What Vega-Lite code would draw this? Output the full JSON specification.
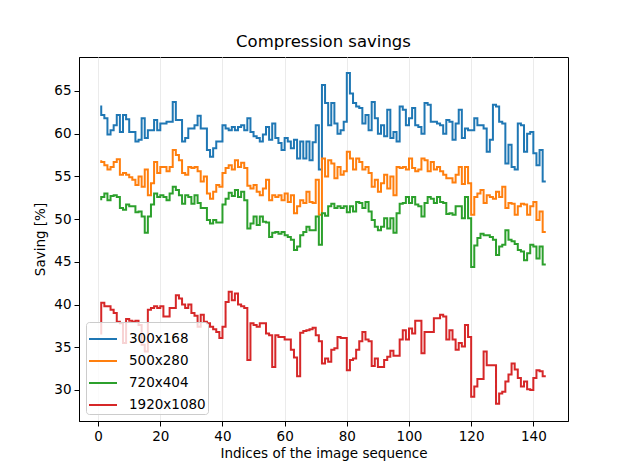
{
"$schema": "https://vega.github.io/schema/vega-lite/v6.json",
"width": 489, "height": 364,
"autosize": {"type": "none"},
"padding": {"left": 79, "top": 57, "right": 63, "bottom": 52},
"background": "white",
"title": {"text": "Compression savings", "fontSize": 16.5, "font": "DejaVu Sans", "fontWeight": "normal", "color": "black", "offset": 7},
"data": {"values": [
{"x":1,"300x168":63.3,"500x280":56.9,"720x404":52.2,"1920x1080":36.5},
{"x":2,"300x168":62.2,"500x280":56.7,"720x404":52.6,"1920x1080":40.2},
{"x":3,"300x168":61.8,"500x280":56.3,"720x404":53.0,"1920x1080":39.8},
{"x":4,"300x168":59.9,"500x280":55.8,"720x404":52.2,"1920x1080":39.8},
{"x":5,"300x168":60.4,"500x280":56.1,"720x404":52.7,"1920x1080":39.4},
{"x":6,"300x168":61.0,"500x280":56.7,"720x404":52.8,"1920x1080":39.0},
{"x":7,"300x168":62.2,"500x280":57.0,"720x404":52.6,"1920x1080":38.0},
{"x":8,"300x168":60.2,"500x280":55.2,"720x404":51.3,"1920x1080":37.8},
{"x":9,"300x168":62.2,"500x280":55.4,"720x404":51.1,"1920x1080":35.5},
{"x":10,"300x168":61.7,"500x280":55.2,"720x404":51.7,"1920x1080":38.3},
{"x":11,"300x168":60.2,"500x280":54.9,"720x404":51.5,"1920x1080":38.1},
{"x":12,"300x168":60.2,"500x280":54.6,"720x404":51.5,"1920x1080":38.0},
{"x":13,"300x168":59.1,"500x280":54.0,"720x404":50.8,"1920x1080":38.1},
{"x":14,"300x168":59.3,"500x280":55.0,"720x404":50.9,"1920x1080":37.6},
{"x":15,"300x168":61.8,"500x280":53.8,"720x404":50.3,"1920x1080":35.3},
{"x":16,"300x168":59.5,"500x280":55.8,"720x404":48.4,"1920x1080":34.5},
{"x":17,"300x168":60.4,"500x280":52.8,"720x404":50.3,"1920x1080":39.4},
{"x":18,"300x168":60.4,"500x280":54.2,"720x404":51.7,"1920x1080":39.6},
{"x":19,"300x168":61.6,"500x280":56.7,"720x404":53.0,"1920x1080":39.8},
{"x":20,"300x168":60.4,"500x280":55.4,"720x404":52.6,"1920x1080":39.6},
{"x":21,"300x168":61.2,"500x280":56.1,"720x404":52.8,"1920x1080":39.8},
{"x":22,"300x168":61.2,"500x280":56.1,"720x404":52.6,"1920x1080":38.6},
{"x":23,"300x168":61.4,"500x280":55.6,"720x404":52.2,"1920x1080":38.6},
{"x":24,"300x168":61.4,"500x280":56.1,"720x404":53.0,"1920x1080":39.6},
{"x":25,"300x168":63.7,"500x280":58.1,"720x404":53.8,"1920x1080":39.6},
{"x":26,"300x168":61.6,"500x280":57.5,"720x404":53.4,"1920x1080":41.1},
{"x":27,"300x168":61.6,"500x280":56.9,"720x404":52.8,"1920x1080":40.7},
{"x":28,"300x168":59.1,"500x280":55.4,"720x404":51.8,"1920x1080":40.0},
{"x":29,"300x168":59.5,"500x280":55.2,"720x404":52.8,"1920x1080":39.6},
{"x":30,"300x168":60.6,"500x280":56.1,"720x404":52.6,"1920x1080":40.0},
{"x":31,"300x168":60.6,"500x280":56.0,"720x404":51.8,"1920x1080":39.0},
{"x":32,"300x168":61.0,"500x280":56.1,"720x404":52.8,"1920x1080":38.7},
{"x":33,"300x168":62.1,"500x280":55.6,"720x404":51.9,"1920x1080":37.4},
{"x":34,"300x168":60.6,"500x280":54.4,"720x404":51.3,"1920x1080":38.8},
{"x":35,"300x168":60.6,"500x280":55.0,"720x404":51.3,"1920x1080":38.0},
{"x":36,"300x168":58.1,"500x280":53.0,"720x404":49.9,"1920x1080":37.8},
{"x":37,"300x168":57.3,"500x280":52.4,"720x404":49.5,"1920x1080":37.4},
{"x":38,"300x168":58.3,"500x280":53.2,"720x404":49.9,"1920x1080":37.1},
{"x":39,"300x168":59.1,"500x280":54.0,"720x404":49.6,"1920x1080":36.8},
{"x":40,"300x168":59.1,"500x280":53.8,"720x404":49.6,"1920x1080":36.1},
{"x":41,"300x168":61.0,"500x280":55.4,"720x404":51.7,"1920x1080":37.4},
{"x":42,"300x168":60.6,"500x280":56.0,"720x404":52.4,"1920x1080":40.3},
{"x":43,"300x168":60.4,"500x280":56.3,"720x404":53.1,"1920x1080":41.5},
{"x":44,"300x168":60.8,"500x280":55.8,"720x404":52.7,"1920x1080":40.5},
{"x":45,"300x168":60.4,"500x280":56.9,"720x404":53.4,"1920x1080":41.3},
{"x":46,"300x168":60.8,"500x280":56.1,"720x404":52.6,"1920x1080":40.0},
{"x":47,"300x168":61.0,"500x280":56.6,"720x404":53.2,"1920x1080":39.8},
{"x":48,"300x168":60.4,"500x280":56.0,"720x404":52.2,"1920x1080":39.6},
{"x":49,"300x168":61.8,"500x280":53.9,"720x404":48.9,"1920x1080":33.5},
{"x":50,"300x168":60.2,"500x280":53.6,"720x404":49.5,"1920x1080":37.8},
{"x":51,"300x168":59.7,"500x280":54.0,"720x404":50.3,"1920x1080":37.6},
{"x":52,"300x168":59.5,"500x280":53.2,"720x404":49.3,"1920x1080":37.4},
{"x":53,"300x168":59.1,"500x280":52.8,"720x404":50.3,"1920x1080":37.8},
{"x":54,"300x168":59.9,"500x280":53.6,"720x404":49.7,"1920x1080":37.8},
{"x":55,"300x168":60.8,"500x280":54.6,"720x404":49.6,"1920x1080":36.6},
{"x":56,"300x168":59.3,"500x280":52.2,"720x404":47.9,"1920x1080":36.4},
{"x":57,"300x168":61.2,"500x280":52.8,"720x404":48.4,"1920x1080":32.7},
{"x":58,"300x168":59.5,"500x280":52.6,"720x404":48.5,"1920x1080":36.4},
{"x":59,"300x168":58.9,"500x280":52.8,"720x404":48.3,"1920x1080":36.2},
{"x":60,"300x168":58.1,"500x280":52.2,"720x404":48.5,"1920x1080":36.2},
{"x":61,"300x168":59.5,"500x280":53.0,"720x404":48.1,"1920x1080":35.9},
{"x":62,"300x168":59.1,"500x280":52.0,"720x404":47.9,"1920x1080":35.9},
{"x":63,"300x168":58.3,"500x280":52.8,"720x404":47.6,"1920x1080":34.7},
{"x":64,"300x168":59.3,"500x280":50.7,"720x404":46.4,"1920x1080":33.8},
{"x":65,"300x168":57.1,"500x280":51.5,"720x404":46.8,"1920x1080":31.6},
{"x":66,"300x168":59.1,"500x280":52.2,"720x404":48.1,"1920x1080":36.7},
{"x":67,"300x168":57.1,"500x280":51.9,"720x404":48.5,"1920x1080":36.9},
{"x":68,"300x168":59.1,"500x280":53.2,"720x404":49.1,"1920x1080":37.0},
{"x":69,"300x168":56.9,"500x280":52.0,"720x404":48.7,"1920x1080":37.1},
{"x":70,"300x168":59.0,"500x280":51.9,"720x404":48.7,"1920x1080":37.3},
{"x":71,"300x168":61.0,"500x280":54.6,"720x404":50.3,"1920x1080":36.4},
{"x":72,"300x168":55.8,"500x280":50.5,"720x404":47.0,"1920x1080":35.7},
{"x":73,"300x168":65.7,"500x280":57.1,"720x404":50.7,"1920x1080":33.1},
{"x":74,"300x168":63.6,"500x280":55.0,"720x404":50.4,"1920x1080":33.7},
{"x":75,"300x168":61.0,"500x280":56.9,"720x404":51.5,"1920x1080":33.3},
{"x":76,"300x168":63.6,"500x280":56.5,"720x404":51.8,"1920x1080":34.7},
{"x":77,"300x168":61.2,"500x280":54.8,"720x404":51.3,"1920x1080":34.9},
{"x":78,"300x168":60.0,"500x280":56.1,"720x404":51.5,"1920x1080":36.2},
{"x":79,"300x168":60.4,"500x280":55.2,"720x404":51.3,"1920x1080":36.1},
{"x":80,"300x168":61.4,"500x280":55.6,"720x404":51.5,"1920x1080":36.1},
{"x":81,"300x168":67.1,"500x280":57.9,"720x404":50.8,"1920x1080":32.3},
{"x":82,"300x168":64.7,"500x280":57.1,"720x404":51.5,"1920x1080":33.5},
{"x":83,"300x168":63.6,"500x280":55.8,"720x404":50.9,"1920x1080":33.7},
{"x":84,"300x168":63.2,"500x280":57.1,"720x404":52.0,"1920x1080":34.7},
{"x":85,"300x168":63.0,"500x280":56.7,"720x404":51.9,"1920x1080":35.7},
{"x":86,"300x168":61.2,"500x280":55.8,"720x404":51.3,"1920x1080":36.8},
{"x":87,"300x168":62.2,"500x280":56.1,"720x404":52.0,"1920x1080":35.9},
{"x":88,"300x168":60.4,"500x280":55.4,"720x404":50.9,"1920x1080":35.7},
{"x":89,"300x168":63.7,"500x280":53.8,"720x404":49.9,"1920x1080":32.8},
{"x":90,"300x168":61.8,"500x280":54.6,"720x404":49.1,"1920x1080":33.7},
{"x":91,"300x168":60.0,"500x280":53.2,"720x404":48.7,"1920x1080":32.7},
{"x":92,"300x168":61.0,"500x280":54.2,"720x404":49.1,"1920x1080":32.7},
{"x":93,"300x168":59.7,"500x280":55.2,"720x404":50.1,"1920x1080":33.5},
{"x":94,"300x168":62.8,"500x280":53.6,"720x404":48.9,"1920x1080":33.9},
{"x":95,"300x168":59.5,"500x280":55.0,"720x404":50.1,"1920x1080":34.6},
{"x":96,"300x168":60.2,"500x280":52.8,"720x404":48.4,"1920x1080":34.0},
{"x":97,"300x168":59.1,"500x280":56.1,"720x404":50.7,"1920x1080":34.0},
{"x":98,"300x168":63.2,"500x280":56.0,"720x404":51.8,"1920x1080":35.9},
{"x":99,"300x168":62.8,"500x280":56.1,"720x404":51.9,"1920x1080":37.0},
{"x":100,"300x168":61.0,"500x280":55.8,"720x404":52.6,"1920x1080":35.9},
{"x":101,"300x168":61.8,"500x280":57.1,"720x404":51.9,"1920x1080":37.2},
{"x":102,"300x168":63.0,"500x280":56.0,"720x404":52.6,"1920x1080":36.6},
{"x":103,"300x168":61.0,"500x280":55.6,"720x404":51.7,"1920x1080":38.1},
{"x":104,"300x168":60.8,"500x280":55.8,"720x404":51.5,"1920x1080":38.1},
{"x":105,"300x168":60.0,"500x280":57.1,"720x404":50.3,"1920x1080":34.3},
{"x":106,"300x168":63.6,"500x280":56.9,"720x404":51.9,"1920x1080":36.8},
{"x":107,"300x168":63.4,"500x280":55.6,"720x404":52.6,"1920x1080":36.8},
{"x":108,"300x168":61.4,"500x280":56.7,"720x404":52.4,"1920x1080":36.8},
{"x":109,"300x168":61.4,"500x280":55.8,"720x404":51.9,"1920x1080":38.4},
{"x":110,"300x168":61.2,"500x280":56.1,"720x404":52.6,"1920x1080":38.4},
{"x":111,"300x168":61.0,"500x280":55.6,"720x404":52.0,"1920x1080":38.8},
{"x":112,"300x168":60.0,"500x280":55.2,"720x404":51.9,"1920x1080":38.6},
{"x":113,"300x168":61.6,"500x280":54.8,"720x404":50.6,"1920x1080":35.9},
{"x":114,"300x168":61.4,"500x280":54.8,"720x404":50.7,"1920x1080":37.0},
{"x":115,"300x168":59.3,"500x280":54.3,"720x404":50.5,"1920x1080":35.9},
{"x":116,"300x168":61.2,"500x280":55.2,"720x404":51.5,"1920x1080":34.7},
{"x":117,"300x168":62.8,"500x280":56.1,"720x404":51.5,"1920x1080":35.5},
{"x":118,"300x168":59.5,"500x280":54.1,"720x404":50.1,"1920x1080":35.1},
{"x":119,"300x168":60.6,"500x280":56.1,"720x404":52.6,"1920x1080":37.6},
{"x":120,"300x168":60.4,"500x280":54.2,"720x404":50.1,"1920x1080":36.2},
{"x":121,"300x168":60.4,"500x280":50.5,"720x404":44.4,"1920x1080":29.2},
{"x":122,"300x168":61.8,"500x280":52.6,"720x404":46.9,"1920x1080":30.4},
{"x":123,"300x168":61.0,"500x280":53.0,"720x404":47.8,"1920x1080":31.3},
{"x":124,"300x168":61.0,"500x280":53.4,"720x404":48.3,"1920x1080":31.3},
{"x":125,"300x168":60.6,"500x280":51.9,"720x404":48.1,"1920x1080":34.5},
{"x":126,"300x168":57.9,"500x280":52.8,"720x404":48.1,"1920x1080":32.9},
{"x":127,"300x168":59.3,"500x280":52.6,"720x404":47.9,"1920x1080":32.9},
{"x":128,"300x168":63.4,"500x280":52.4,"720x404":47.6,"1920x1080":32.9},
{"x":129,"300x168":63.2,"500x280":53.2,"720x404":45.8,"1920x1080":28.4},
{"x":130,"300x168":61.4,"500x280":52.6,"720x404":46.8,"1920x1080":29.6},
{"x":131,"300x168":61.2,"500x280":53.8,"720x404":47.0,"1920x1080":29.8},
{"x":132,"300x168":56.5,"500x280":51.3,"720x404":48.7,"1920x1080":31.0},
{"x":133,"300x168":58.7,"500x280":51.9,"720x404":47.6,"1920x1080":31.8},
{"x":134,"300x168":56.1,"500x280":51.8,"720x404":47.4,"1920x1080":33.1},
{"x":135,"300x168":55.8,"500x280":50.5,"720x404":47.1,"1920x1080":32.4},
{"x":136,"300x168":61.2,"500x280":51.5,"720x404":46.4,"1920x1080":31.4},
{"x":137,"300x168":61.0,"500x280":51.8,"720x404":46.2,"1920x1080":30.4},
{"x":138,"300x168":57.9,"500x280":51.7,"720x404":45.2,"1920x1080":31.0},
{"x":139,"300x168":60.0,"500x280":50.5,"720x404":46.0,"1920x1080":30.1},
{"x":140,"300x168":60.2,"500x280":51.5,"720x404":47.0,"1920x1080":30.0},
{"x":141,"300x168":57.7,"500x280":52.0,"720x404":46.8,"1920x1080":31.4},
{"x":142,"300x168":56.3,"500x280":49.9,"720x404":45.4,"1920x1080":32.3},
{"x":143,"300x168":58.1,"500x280":50.9,"720x404":46.8,"1920x1080":32.2},
{"x":144,"300x168":54.4,"500x280":48.5,"720x404":44.7,"1920x1080":31.6}
]},
"transform": [{"fold": ["300x168", "500x280", "720x404", "1920x1080"], "as": ["series", "saving"]}],
"mark": {"type": "line", "interpolate": "step-before", "strokeWidth": 2},
"encoding": {
  "x": {"field": "x", "type": "quantitative",
        "scale": {"domain": [-6.15, 151.15], "nice": false, "zero": false},
        "axis": {"values": [0, 20, 40, 60, 80, 100, 120, 140], "title": "Indices of the image sequence", "grid": true, "titlePadding": 4}},
  "y": {"field": "saving", "type": "quantitative",
        "scale": {"domain": [26.37, 68.98], "nice": false, "zero": false},
        "axis": {"values": [30, 35, 40, 45, 50, 55, 60, 65], "title": "Saving [%]", "grid": false, "titlePadding": 6}},
  "color": {"field": "series", "type": "nominal",
        "scale": {"domain": ["300x168", "500x280", "720x404", "1920x1080"], "range": ["#1f77b4", "#ff7f0e", "#2ca02c", "#d62728"]},
        "legend": {"title": null, "orient": "bottom-left", "offset": 7}}
},
"config": {
  "view": {"stroke": "black", "strokeWidth": 1},
  "axis": {"domainColor": "black", "domainWidth": 1, "tickColor": "black", "tickSize": 5, "tickWidth": 1,
           "labelFont": "DejaVu Sans", "labelFontSize": 13.5, "labelColor": "black", "labelPadding": 3,
           "titleFont": "DejaVu Sans", "titleFontSize": 13.5, "titleFontWeight": "normal", "titleColor": "black",
           "gridColor": "#ebebeb", "gridWidth": 1},
  "legend": {"fillColor": "rgba(255,255,255,0.8)", "strokeColor": "#cccccc", "cornerRadius": 3, "padding": 2,
             "symbolType": "stroke", "symbolSize": 784, "symbolStrokeWidth": 2, "labelFont": "DejaVu Sans",
             "labelFontSize": 13.5, "labelColor": "black", "labelOffset": 11, "rowPadding": -8}
}
}
